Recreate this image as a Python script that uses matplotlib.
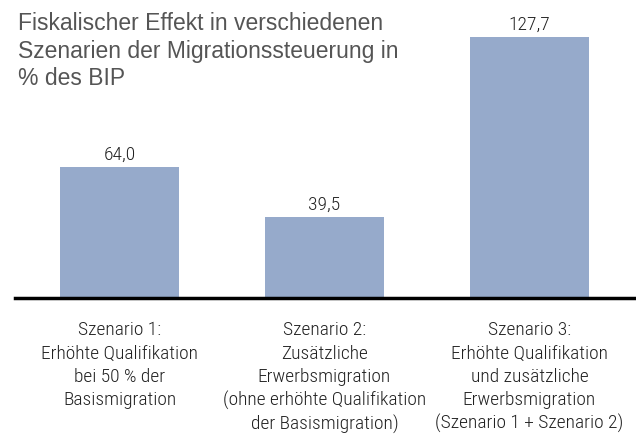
import matplotlib
matplotlib.use("Agg")
import matplotlib.pyplot as plt

# Data
scenarios = [
    "Szenario 1:\nErhöhte Qualifikation\nbei 50 % der\nBasismigration",
    "Szenario 2:\nZusätzliche\nErwerbsmigration\n(ohne erhöhte Qualifikation\nder Basismigration)",
    "Szenario 3:\nErhöhte Qualifikation\nund zusätzliche\nErwerbsmigration\n(Szenario 1 + Szenario 2)",
]
values = [64.0, 39.5, 127.7]
title = "Fiskalischer Effekt in verschiedenen\nSzenarien der Migrationssteuerung in\n% des BIP"

narrow = ["Roboto Condensed", "Liberation Sans Narrow", "Archivo Narrow", "Roboto", "DejaVu Sans"]

fig = plt.figure(figsize=(6.36, 4.36), dpi=100)
# baseline at y=298 px, runs from x=15 to the right edge
ax = fig.add_axes([15 / 636, 1 - 298 / 436, 621 / 636, 298 / 436])

x = list(range(len(values)))
ax.bar(x, values, width=0.58, color="#96aacb", zorder=2)
ax.set_xlim(-0.51, 2.52)
ax.set_ylim(0, 298 / 2.04)

for xi, v in zip(x, values):
    ax.text(xi, v + 1.8, f"{v:.1f}".replace(".", ","), ha="center", va="bottom",
            fontsize=14, family=narrow, weight="light", color="#222222")

for xi, s in zip(x, scenarios):
    ax.text(xi, -11.5, s, ha="center", va="top", fontsize=14, family=narrow,
            weight="light", color="#222222", linespacing=1.36)

for side in ["top", "right", "left"]:
    ax.spines[side].set_visible(False)
ax.spines["bottom"].set_linewidth(2.5)
ax.spines["bottom"].set_color("black")
ax.set_xticks([])
ax.set_yticks([])

fig.text(18 / 636, 1 - 12 / 436, title, ha="left", va="top", fontsize=16.5,
         family="Liberation Sans", color="#555555", linespacing=1.26)

fig.savefig("out.png", dpi=100)
